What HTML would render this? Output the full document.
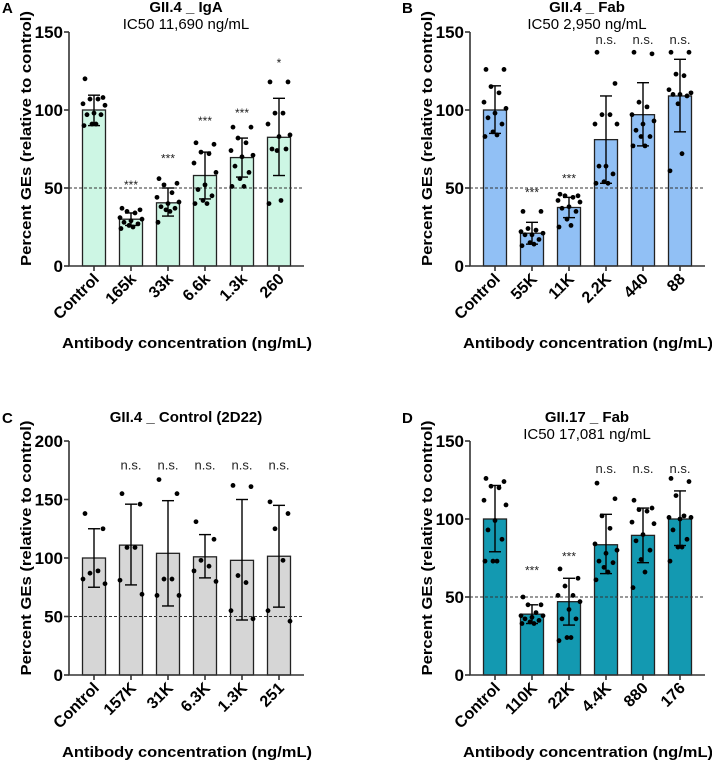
<!DOCTYPE html>
<html><head><meta charset="utf-8"><style>
html,body{margin:0;padding:0;background:#fff;}
svg{display:block;font-family:"Liberation Sans",Arial,sans-serif;}
</style></head><body>
<svg id="fig" width="712" height="760" viewBox="0 0 712 760" xmlns="http://www.w3.org/2000/svg"></svg>
<script>
// Panel A data
const catsA = ["Control","165k","33k","6.6k","1.3k","260"];
const meansA = [100,30,40.5,58,69.5,82.5];
const lowA = [90,26,32,43,57,58];
const highA = [109.5,34,50,73,82,107.5];
const ptsA = [[120,108,107,107,104,103,98,97,97,91,91,90],[37,36,35,34,31,30,29,28,27,26,25,24],[56,53,52,47,44,41,40,38,37,36,35,28],[79,78,73,72,66,60,52,49,45,42,40,40],[89,89,82,79,74,71,70,64,60,56,51,51],[118,118,98,98,91,84,83,75,75,74,42,40]];
const sigA = ["","***","***","***","***","*"];
const sigYA = [0,52,69,93,98,130];
const ticksA = [0,50,100,150];
// Panel B data
const catsB = ["Control","55K","11K","2.2K","440","88"];
const meansB = [100,21,37.5,81,97,109];
const lowB = [85,14,31,53,77,86];
const highB = [115.5,28,44,109,117.5,132.5];
const ptsB = [[126,126,115,111,105,101,98,95,91,86,84,83],[35,35,24,23,22,21,20,20,17,15,14,13],[46,45,45,44,42,41,38,37,35,30,26,25],[137,117,97,97,91,91,64,64,59,54,53,53],[137,136,105,102,97,93,91,87,83,83,77,77],[137,137,123,122,113,111,110,110,109,104,72,61]];
const sigB = ["","***","***","n.s.","n.s.","n.s."];
const sigYB = [0,47,56,145,145,145];
const ticksB = [0,50,100,150];
// Panel C data
const catsC = ["Control","157K","31K","6.3K","1.3K","251"];
const meansC = [100,111,104,101,98,101.5];
const lowC = [75,77,59,83,47,58];
const highC = [125,146,149,120,150,145];
const ptsC = [[138,125,87,89,82,78],[155,146,109,109,81,69],[167,155,82,82,68,68],[131,116,98,93,89,80],[162,161,85,79,55,48],[148,138,125,98,55,46]];
const sigC = ["","n.s.","n.s.","n.s.","n.s.","n.s."];
const sigYC = [0,179,179,179,179,179];
const ticksC = [0,50,100,150,200];
// Panel D data
const catsD = ["Control","110K","22K","4.4K","880","176"];
const meansD = [100,39,47,83.5,89.5,100];
const lowD = [79,33,32,65,72,83];
const highD = [121.5,45,62,103,107,118];
const ptsD = [[126,124,121,120,112,109,99,93,87,73,73,73],[50,45,45,40,38,38,37,36,35,34,33,33],[68,62,57,51,51,47,42,36,36,24,24,22],[123,113,102,94,84,80,78,73,72,69,66,61],[112,107,106,105,98,97,90,86,80,74,66,56],[126,124,115,102,101,101,100,93,87,82,82,73]];
const sigD = ["","***","***","n.s.","n.s.","n.s."];
const sigYD = [0,67,76,132,132,132];
const ticksD = [0,50,100,150];

const NS="http://www.w3.org/2000/svg";
const svg=document.getElementById('fig');
function mk(tag,attrs,parent){const e=document.createElementNS(NS,tag);for(const k in attrs)e.setAttribute(k,attrs[k]);(parent||svg).appendChild(e);return e;}
const jit=[-9,9,-4,4,-11,11,0,-7,7,-2,2,-10];

function panel(o){
  const g=mk('g',{});
  
  
  const ax=o.ax, y0=o.y0, yTop=o.yTop, vmax=o.vmax, xEnd=ax+235;
  const ys=v=>y0-(v/vmax)*(y0-yTop);
  const xs=i=>ax+25+i*37;
  let t=mk('text',{x:o.lx,y:o.ty+12,'font-size':15,'font-weight':'bold'},g);t.textContent=o.letter;
  
  t=mk('text',{x:ax+117,y:o.ty+11,'font-size':15,'font-weight':'bold','text-anchor':'middle'},g);t.textContent=o.title;
  
  if(o.sub){t=mk('text',{x:ax+117,y:o.ty+28,'font-size':15,'text-anchor':'middle'},g);t.textContent=o.sub;
    }
  o.means.forEach((m,i)=>{
    const r=mk('rect',{x:xs(i)-11.5,y:ys(m),width:23,height:y0-ys(m),fill:o.color,stroke:'#222','stroke-width':1.3},g);
    
    
  });
  const dl=mk('line',{x1:ax,x2:xEnd,y1:ys(50),y2:ys(50),stroke:'#333','stroke-width':1,'stroke-dasharray':'3,2'},g);
  
  o.pts.forEach((arr,i)=>arr.forEach((v,j)=>{
    const c=mk('circle',{cx:xs(i)+jit[j%jit.length],cy:ys(v),r:2.4,fill:'#000'},g);
    
  }));
  o.means.forEach((m,i)=>{
    const e=mk('g',{stroke:'#000','stroke-width':1.4},g);
    
    mk('line',{x1:xs(i),x2:xs(i),y1:ys(o.low[i]),y2:ys(o.high[i])},e);
    mk('line',{x1:xs(i)-6,x2:xs(i)+6,y1:ys(o.low[i]),y2:ys(o.low[i])},e);
    mk('line',{x1:xs(i)-6,x2:xs(i)+6,y1:ys(o.high[i]),y2:ys(o.high[i])},e);
  });
  o.sig.forEach((s,i)=>{ if(!s)return;
    const tt=mk('text',{x:xs(i),y:ys(o.sigY[i])+4,'font-size':s==='n.s.'?13:12,'text-anchor':'middle',fill:'#222'},g);tt.textContent=s;
    
  });
  const a=mk('path',{d:`M${ax},${yTop} V${y0} H${xEnd}`,fill:'none',stroke:'#333','stroke-width':1.6},g);
  
  o.ticks.forEach(v=>{
    mk('line',{x1:ax-5,x2:ax,y1:ys(v),y2:ys(v),stroke:'#333','stroke-width':1.6},g);
    const tl=mk('text',{x:ax-6,y:ys(v)+6,'font-size':17,'font-weight':'bold','text-anchor':'end'},g);tl.textContent=v;
    
  });
  o.cats.forEach((c,i)=>{
    mk('line',{x1:xs(i),x2:xs(i),y1:y0,y2:y0+5,stroke:'#333','stroke-width':1.6},g);
    const tl=mk('text',{x:xs(i)+6,y:y0+14,'font-size':16,'font-weight':'bold','text-anchor':'end',transform:`rotate(-45 ${xs(i)+6} ${y0+14})`},g);tl.textContent=c;
    
  });
  t=mk('text',{x:0,y:0,'font-size':15,'font-weight':'bold','text-anchor':'middle',textLength:255,lengthAdjust:'spacingAndGlyphs',transform:`translate(${ax-38},${(y0+o.ty)/2+5}) rotate(-90)`},g);
  t.textContent='Percent GEs (relative to control)';
  
  t=mk('text',{x:ax+118,y:y0+82,'font-size':15,'font-weight':'bold','text-anchor':'middle',textLength:250,lengthAdjust:'spacingAndGlyphs'},g);
  t.textContent='Antibody concentration (ng/mL)';
  
}
panel({letter:'A',lx:2,ty:1,ax:69,y0:266,yTop:32,vmax:150,color:'#cdf6e4',title:'GII.4 _ IgA',sub:'IC50  11,690 ng/mL',cats:catsA,means:meansA,low:lowA,high:highA,pts:ptsA,sig:sigA,sigY:sigYA,ticks:ticksA});
panel({letter:'B',lx:402,ty:1,ax:470,y0:266,yTop:32,vmax:150,color:'#91c0f5',title:'GII.4 _ Fab',sub:'IC50  2,950 ng/mL',cats:catsB,means:meansB,low:lowB,high:highB,pts:ptsB,sig:sigB,sigY:sigYB,ticks:ticksB});
panel({letter:'C',lx:2,ty:411,ax:69,y0:675,yTop:441,vmax:200,color:'#d6d6d6',title:'GII.4 _ Control (2D22)',sub:'',cats:catsC,means:meansC,low:lowC,high:highC,pts:ptsC,sig:sigC,sigY:sigYC,ticks:ticksC});
panel({letter:'D',lx:402,ty:411,ax:470,y0:675,yTop:441,vmax:150,color:'#1399b1',title:'GII.17 _ Fab',sub:'IC50  17,081 ng/mL',cats:catsD,means:meansD,low:lowD,high:highD,pts:ptsD,sig:sigD,sigY:sigYD,ticks:ticksD});
</script>
</body></html>
